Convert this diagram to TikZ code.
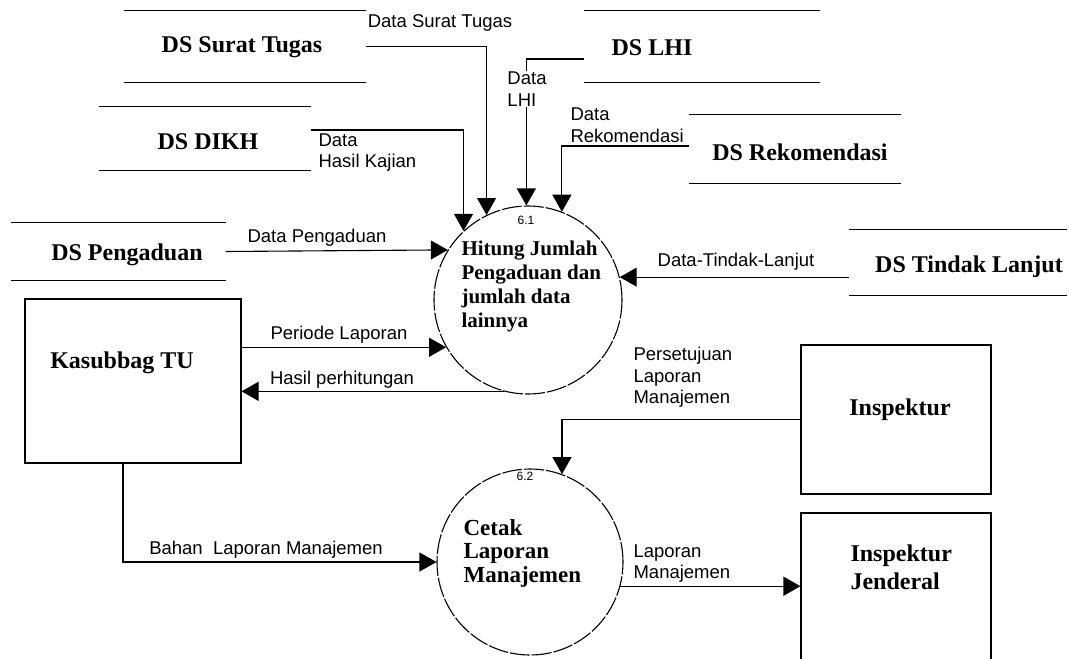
\documentclass[tikz,border=0pt]{standalone}
\usepackage{fontspec}
\setmainfont{Liberation Serif}
\setsansfont{Liberation Sans}
\usetikzlibrary{arrows.meta,calc}

\begin{document}
\begin{tikzpicture}[x=1pt,y=-1pt,
  line width=1.1pt,
  flow/.style={-{Triangle[length=17pt,width=19pt]}},
  proc/.style={circle,draw,dash pattern=on 20pt off 2pt,inner sep=0pt},
  entity/.style={rectangle,draw,inner sep=0pt},
  storebox/.style={rectangle,inner sep=0pt},
  title/.style={font=\fontsize{24}{28}\selectfont\bfseries,inner sep=0pt},
  ptitle/.style={font=\fontsize{21}{24}\selectfont\bfseries,align=left,inner sep=0pt},
  ctitle/.style={font=\fontsize{23}{23.5}\selectfont\bfseries,align=left,inner sep=0pt},
  lbl/.style={font=\sffamily\fontsize{18.5}{21.5}\selectfont,inner sep=0pt,align=left},
  pid/.style={font=\sffamily\fontsize{12}{14}\selectfont,inner sep=0pt}
]
\clip (0,0) rectangle (1069,659);
\fill[white] (0,0) rectangle (1069,659);

% ---------- data stores (open rectangles: top and bottom lines) ----------
\node[storebox,minimum width=240pt,minimum height=71pt] (st)   at (245,46.5)  {};
\node[storebox,minimum width=234pt,minimum height=71pt] (lhi)  at (702,46.5)  {};
\node[storebox,minimum width=210pt,minimum height=63pt] (dikh) at (205,138.5) {};
\node[storebox,minimum width=210pt,minimum height=68pt] (rek)  at (795,149)   {};
\node[storebox,minimum width=213pt,minimum height=57pt] (peng) at (118.5,251.5) {};
\node[storebox,minimum width=216pt,minimum height=65pt] (tl)   at (958,262.5) {};
\foreach \s in {st,lhi,dikh,rek,peng,tl}
  \draw (\s.north west) -- (\s.north east) (\s.south west) -- (\s.south east);

\node[title] (stt)   at (242,47)  {DS Surat Tugas};
\node[title] (lhit)  at (652,48)  {DS LHI};
\node[title] (dikht) at (208,142) {DS DIKH};
\node[title] (rekt)  at (800,152) {DS Rekomendasi};
\node[title] (pengt) at (127,255) {DS Pengaduan};
\node[title] (tlt)   at (969,267) {DS Tindak Lanjut};

% ---------- external entities ----------
\node[entity,minimum width=216pt,minimum height=164pt] (kas)  at (133,381)   {};
\node[entity,minimum width=190pt,minimum height=149pt] (insp) at (896,419.5) {};
\node[entity,minimum width=190pt,minimum height=157pt] (ij)   at (896,591.5) {};
\node[title] (kast)  at (122,363) {Kasubbag TU};
\node[title] (inspt) at (900,410) {Inspektur};
\node[title,align=left,anchor=west] (ijt) at (850,567) {Inspektur\\Jenderal};

% ---------- processes ----------
\node[proc,minimum size=188pt] (c61) at (528,300) {};
\node[proc,minimum size=186pt] (c62) at (530,562) {};
\node[pid] (c61n) at (526,220) {6.1};
\node[pid] (c62n) at (525,476) {6.2};
\node[ptitle,anchor=west] (c61t) at (461,286) {Hitung Jumlah\\Pengaduan dan\\jumlah data\\lainnya};
\node[ctitle,anchor=west] (c62t) at (463,553) {Cetak\\Laporan\\Manajemen};

% ---------- data flows ----------
\draw[flow] (st.east) -| (c61.116);
\node[lbl] (fst) at (440,23) {Data Surat Tugas};

\draw[flow] ($(lhi.west)+(0,12.5)$) -| (c61.91);
\node[lbl,fill=white,inner sep=1pt] (flhi) at (527,89) {Data\\LHI};

\draw[flow] ($(dikh.east)+(0,-8.5)$) -| (c61.133.7);
\node[lbl,anchor=north west] (fdikh) at (318,133) {Data\\Hasil Kajian};

\draw[flow] ($(rek.west)+(0,-3)$) -| (c61.69.4);
\node[lbl,anchor=south west] (frek) at (570,143) {Data\\Rekomendasi};

\draw[flow] (peng.east) -- (c61.148.6);
\node[lbl] (fpeng) at (317,238) {Data Pengaduan};

\draw[flow] (kas.east |- c61.210) -- (c61.210);
\node[lbl] (fper) at (339,335) {Periode Laporan};

\draw[flow] (c61.255) -- (c61.255 -| kas.east);
\node[lbl] (fhas) at (342,380) {Hasil perhitungan};

\draw[flow] (tl.west |- c61.14.2) -- (c61.14.2);
\node[lbl] (ftl) at (736,262) {Data-Tindak-Lanjut};

\draw[flow] ($(kas.south)+(-10,0)$) |- (c62.west);
\node[lbl] (fbah) at (266,550) {Bahan\ \ Laporan Manajemen};

\draw[flow] (insp.west) -| (c62.70.5);
\node[lbl,anchor=north west] (fpers) at (633,347) {Persetujuan\\Laporan\\Manajemen};

\draw[flow] (c62.-15) -- (c62.-15 -| ij.west);
\node[lbl,anchor=south west] (flap) at (633,583) {Laporan\\Manajemen};
\end{tikzpicture}
\end{document}
